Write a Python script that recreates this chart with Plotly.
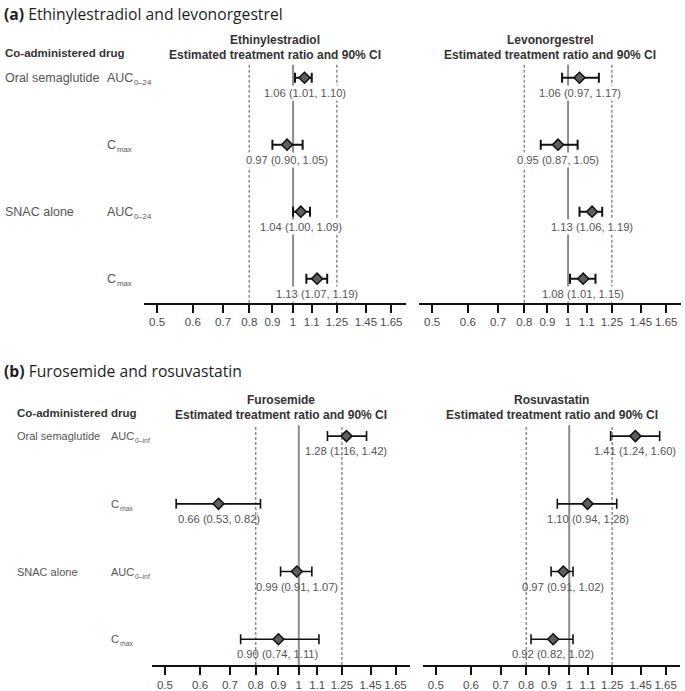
import math
import plotly.graph_objects as go

W, H = 685, 691

# ---------------- data ----------------
metric_base = ["AUC", "C", "AUC", "C"]
metric_sub_a = ["0–24", "max", "0–24", "max"]
metric_sub_b = ["0–inf", "max", "0–inf", "max"]
groups = ["Oral semaglutide", "SNAC alone"]

eth_est = [1.06, 0.97, 1.04, 1.13]
eth_lo = [1.01, 0.90, 1.00, 1.07]
eth_hi = [1.10, 1.05, 1.09, 1.19]

lev_est = [1.06, 0.95, 1.13, 1.08]
lev_lo = [0.97, 0.87, 1.06, 1.01]
lev_hi = [1.17, 1.05, 1.19, 1.15]

fur_est = [1.28, 0.66, 0.99, 0.90]
fur_lo = [1.16, 0.53, 0.91, 0.74]
fur_hi = [1.42, 0.82, 1.07, 1.11]

ros_est = [1.41, 1.10, 0.97, 0.92]
ros_lo = [1.24, 0.94, 0.91, 0.82]
ros_hi = [1.60, 1.28, 1.02, 1.02]

tick_vals = [0.5, 0.6, 0.7, 0.8, 0.9, 1, 1.1, 1.25, 1.45, 1.65]
tick_text = ["0.5", "0.6", "0.7", "0.8", "0.9", "1", "1.1", "1.25", "1.45", "1.65"]
ref_lines = [0.8, 1.25]

FONT = "Liberation Sans"
# Liberation Sans advance widths (em) for the glyphs used in the metric names
EM = {"A": 0.667, "U": 0.722, "C": 0.722}

# ---------------- layout helpers ----------------
def px_x(p):
    return p / W

def px_y(p):
    return 1 - p / H

# panels: (name, est, lo, hi, x-domain px, y-domain px, y-range, err thickness, label bg)
panels = [
    ("Ethinylestradiol", eth_est, eth_lo, eth_hi, (144, 406), (65, 304), (0.642, 4.194), 2, "white"),
    ("Levonorgestrel", lev_est, lev_lo, lev_hi, (419, 681), (65, 304), (0.642, 4.194), 2, "white"),
    ("Furosemide", fur_est, fur_lo, fur_hi, (152, 410), (427, 668), (0.618, 4.162), 1.6, None),
    ("Rosuvastatin", ros_est, ros_lo, ros_hi, (423, 680), (427, 668), (0.618, 4.162), 1.6, None),
]

ypos = [4, 3, 2, 1]

fig = go.Figure()
annotations = []
shapes = []

for i, (name, est, lo, hi, xd, yd, yr, th, bg) in enumerate(panels):
    k = "" if i == 0 else str(i + 1)
    xa, ya = "x" + k, "y" + k
    fig.add_trace(go.Scatter(
        x=est, y=ypos, xaxis=xa, yaxis=ya, mode="markers",
        marker=dict(symbol="diamond", size=8.5, color="#5e5e5e",
                    line=dict(color="#111111", width=1.5)),
        error_x=dict(type="data", symmetric=False,
                     array=[h - e for h, e in zip(hi, est)],
                     arrayminus=[e - l for e, l in zip(est, lo)],
                     color="#111111", thickness=th, width=5),
        showlegend=False, hoverinfo="skip"))
    fig.layout["xaxis" + k] = dict(
        type="log", range=[-0.33, 0.25], domain=[px_x(xd[0]), px_x(xd[1])],
        anchor=ya, showgrid=False, zeroline=False, showline=True,
        linecolor="#111111", linewidth=2, ticks="outside", ticklen=8,
        tickwidth=2, tickcolor="#111111", tickvals=tick_vals, ticktext=tick_text,
        tickfont=dict(family=FONT, size=11.5, color="#4a4a4a"),
        fixedrange=True)
    fig.layout["yaxis" + k] = dict(
        range=list(yr), domain=[px_y(yd[1]), px_y(yd[0])], anchor=xa,
        visible=False, fixedrange=True)
    # reference lines
    shapes.append(dict(type="line", xref=xa, yref=ya + " domain", x0=1, x1=1, y0=0, y1=1,
                       line=dict(color="#8c8c8c", width=2), layer="below"))
    for r in ref_lines:
        shapes.append(dict(type="line", xref=xa, yref=ya + " domain", x0=r, x1=r, y0=0, y1=1,
                           line=dict(color="#8c8c8c", width=1.5, dash="3px,2px"), layer="below"))
    # value labels
    for e, l, h, yv in zip(est, lo, hi, ypos):
        ann = dict(
            x=math.log10(e), y=yv, xref=xa, yref=ya,
            text=f"{e:.2f} ({l:.2f}, {h:.2f})", showarrow=False,
            yshift=-15, xanchor="center", yanchor="middle",
            font=dict(family=FONT, size=11.2, color="#555555"))
        if bg:
            ann["bgcolor"] = bg
        annotations.append(ann)
    # headers
    cx = px_x((xd[0] + xd[1]) / 2)
    top = yd[0]
    for txt, dy in ((name, -25), ("Estimated treatment ratio and 90% CI", -10)):
        annotations.append(dict(
            x=cx, y=px_y(top + dy), xref="paper", yref="paper", text=f"<b>{txt}</b>",
            showarrow=False, xanchor="center", yanchor="middle",
            font=dict(family=FONT, size=12, color="#333333")))

# left-hand labels
for (ya, lx, mx, hy, subs, fs) in (("y", 3, 106, 53, metric_sub_a, 12.5),
                                   ("y3", 15, 110, 415, metric_sub_b, 11)):
    annotations.append(dict(
        x=px_x(lx), y=px_y(hy), xref="paper", yref="paper",
        text="<b>Co-administered drug</b>", showarrow=False, xanchor="left", yanchor="middle",
        font=dict(family=FONT, size=11.5, color="#333333")))
    for gi, g in enumerate(groups):
        annotations.append(dict(
            x=px_x(lx), y=ypos[gi * 2], xref="paper", yref=ya, text=g, showarrow=False,
            xanchor="left", yanchor="middle",
            font=dict(family=FONT, size=fs, color="#555555")))
    for base, sub, yv in zip(metric_base, subs, ypos):
        annotations.append(dict(
            x=px_x(mx), y=yv, xref="paper", yref=ya, text=base, showarrow=False,
            xanchor="left", yanchor="middle", borderpad=0,
            font=dict(family=FONT, size=fs, color="#555555")))
        bw = sum(EM[c] for c in base) * fs
        annotations.append(dict(
            x=px_x(mx + bw + 1), y=yv, xref="paper", yref=ya, text=sub, showarrow=False,
            xanchor="left", yanchor="middle", yshift=-4.5, borderpad=0,
            font=dict(family=FONT, size=fs * 0.62, color="#555555")))

# section titles
for txt, ty in (("<b>(a)</b> Ethinylestradiol and levonorgestrel", 14),
                ("<b>(b)</b> Furosemide and rosuvastatin", 373)):
    annotations.append(dict(
        x=px_x(2), y=px_y(ty), xref="paper", yref="paper", text=txt, showarrow=False,
        xanchor="left", yanchor="middle",
        font=dict(family="Open Sans", size=15.7, color="#1e1e1e")))

fig.update_layout(
    width=W, height=H, margin=dict(l=0, r=0, t=0, b=0),
    paper_bgcolor="white", plot_bgcolor="white",
    annotations=annotations, shapes=shapes)

fig.write_html("out.html", config={"displayModeBar": False})
